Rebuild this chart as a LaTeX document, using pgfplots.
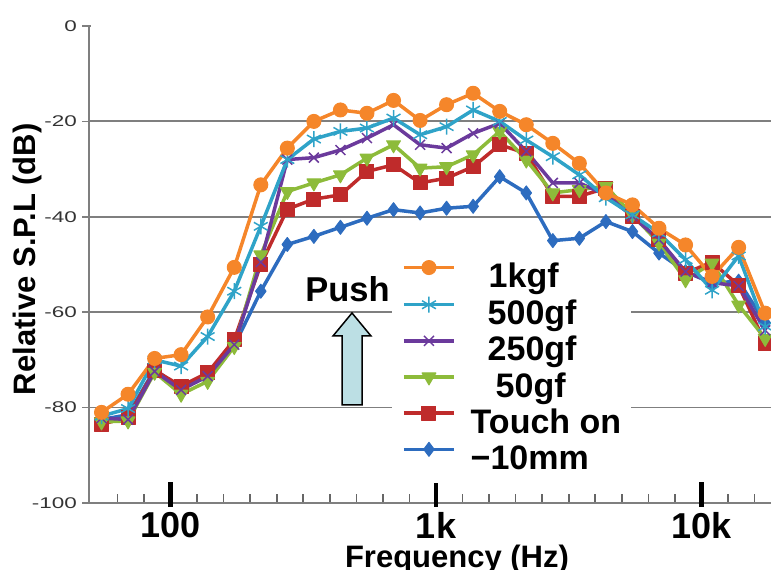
\documentclass[border=0pt]{standalone}
\usepackage{fontspec}
\setmainfont{Liberation Sans}
\newfontfamily\ytfont{Liberation Sans}[FakeStretch=1.45]
\usepackage{pgfplots}
\pgfplotsset{compat=1.18}
\usepackage{pgfplotstable}

\definecolor{ckg}{HTML}{F5862A}
\definecolor{cfive}{HTML}{2FA3C8}
\definecolor{ctwo}{HTML}{6B3A9C}
\definecolor{cfifty}{HTML}{8DBB3A}
\definecolor{ctouch}{HTML}{BF2B2B}
\definecolor{cten}{HTML}{2D6CBF}
\definecolor{arrowfill}{HTML}{BCDFE4}
\definecolor{gridgray}{HTML}{7F7F7F}

% relative SPL (dB) per band
\pgfplotstableread{
f kgf g500 g250 g50 touch mm10
54.95 -81.0 -81.8 -82.2 -83.0 -83.5 -82.5
69.18 -77.2 -80.2 -82.5 -82.8 -82.0 -81.5
87.10 -69.7 -70.0 -72.4 -72.6 -72.2 -72.0
109.6 -68.9 -71.3 -76.3 -77.2 -75.5 -76.0
138.0 -61.0 -65.1 -73.4 -74.5 -72.7 -73.5
173.8 -50.6 -55.6 -66.8 -67.2 -65.8 -67.0
218.8 -33.3 -42.0 -49.5 -48.0 -50.0 -55.6
275.4 -25.6 -28.0 -28.0 -34.7 -38.4 -45.8
346.7 -20.0 -23.7 -27.6 -32.9 -36.3 -44.1
436.5 -17.6 -22.1 -26.0 -31.2 -35.4 -42.2
549.5 -18.3 -21.4 -23.5 -27.7 -30.5 -40.3
691.8 -15.6 -19.3 -20.7 -24.9 -29.1 -38.5
871.0 -19.8 -22.8 -24.9 -29.8 -32.9 -39.2
1096 -16.5 -21.1 -25.6 -29.5 -31.9 -38.2
1380 -14.1 -17.6 -22.5 -27.0 -29.5 -37.8
1738 -17.9 -20.0 -20.4 -22.1 -24.9 -31.6
2188 -20.7 -23.9 -26.3 -28.1 -26.7 -35.0
2754 -24.6 -27.4 -32.9 -35.0 -35.7 -45.0
3467 -28.8 -31.2 -32.9 -34.3 -35.7 -44.5
4365 -35.0 -36.0 -35.4 -33.6 -34.0 -41.0
5495 -37.5 -39.6 -39.9 -39.6 -39.9 -43.1
6918 -42.4 -43.4 -44.8 -45.5 -44.8 -47.6
8710 -45.9 -49.0 -51.5 -53.2 -51.8 -51.5
10965 -52.5 -55.4 -53.8 -49.7 -49.5 -53.9
13804 -46.4 -48.2 -54.5 -58.5 -54.4 -53.5
17378 -60.2 -63.0 -63.8 -65.5 -66.5 -62.2
}\spl

\begin{document}
\begin{tikzpicture}
\begin{axis}[
  at={(0pt,0pt)}, anchor=south west,
  scale only axis, width=682pt, height=477pt,
  xmode=log, xmin=49.3, xmax=18280, ymin=-100, ymax=0,
  axis lines=left, axis line style={-, draw=gridgray, line width=1.8pt},
  tick align=inside, major tick length=9pt,
  xtick={63.1,79.43,100,125.9,158.5,199.5,251.2,316.2,398.1,501.2,631,794.3,1000,1259,1585,1995,2512,3162,3981,5012,6310,7943,10000,12589,15849},
  xticklabels={{},{},100,{},{},{},{},{},{},{},{},{},1k,{},{},{},{},{},{},{},{},{},10k,{},{}},
  major x tick style={black!60, line width=1.6pt},
  extra x ticks={100,1000,10000}, extra x tick labels={},
  extra x tick style={major tick length=25pt, grid=none, major x tick style={black, line width=4.5pt, yshift=-4pt}},
  xticklabel style={font=\bfseries\fontsize{36}{36}\selectfont, inner sep=0pt, yshift=-9pt},
  ytick={-80,-60,-40,-20}, ymajorgrids, grid style={gridgray, line width=1.8pt},
  extra y ticks={-100,0}, extra y tick style={grid=none},
  major y tick style={gridgray, line width=1.5pt, xshift=-7pt},
  yticklabel style={font=\ytfont\fontsize{15.5}{15.5}\selectfont, text=black!80, inner sep=0pt, xshift=-12pt},
  /pgf/number format/assume math mode=true,
  xlabel={Frequency (Hz)},
  xlabel style={at={(axis description cs:0.5396,0)}, anchor=north, inner sep=0pt, yshift=-42pt, font=\bfseries\fontsize{31}{31}\selectfont},
  ylabel={Relative S.P.L (dB)},
  ylabel style={at={(axis description cs:-0.0909,0.511)}, anchor=center, inner sep=0pt, font=\bfseries\fontsize{31}{31}\selectfont},
  legend style={at={(0.4443,0.515)}, anchor=north west, draw=none, fill=white,
    font=\bfseries\fontsize{34}{34}\selectfont, inner xsep=10pt, inner ysep=3pt,
    row sep=-1.7pt, column sep=15pt,
    nodes={inner sep=0pt, text height=27pt, text depth=10.8pt}},
  legend cell align=left,
  legend image code/.code={\draw[mark repeat=2, mark phase=2, #1] plot coordinates {(0pt,0pt) (25pt,0pt) (50pt,0pt)};},
  legend image post style={yshift=12pt},
  reverse legend,
  every axis plot/.append style={line width=3.5pt, line join=round},
]
\addplot[color=cten, mark=diamond*, mark size=7pt, mark options={solid, line width=1pt}] table[x=f, y=mm10] {\spl};
\addlegendentry{−10mm}
\addplot[color=ctouch, mark=square*, mark size=7pt, mark options={solid, line width=1pt}] table[x=f, y=touch] {\spl};
\addlegendentry{Touch on}
\addplot[color=cfifty, mark=triangle*, mark size=8pt, mark options={solid, rotate=180, line width=1pt}] table[x=f, y=g50] {\spl};
\addlegendentry{\hspace{25pt}50gf}
\addplot[color=ctwo, mark=x, mark size=7pt, mark options={solid, line width=1.5pt}] table[x=f, y=g250] {\spl};
\addlegendentry{\hspace{17pt}250gf}
\addplot[color=cfive, mark=asterisk, mark size=8pt, mark options={solid, line width=1.5pt}] table[x=f, y=g500] {\spl};
\addlegendentry{\hspace{17pt}500gf}
\addplot[color=ckg, mark=*, mark size=7pt, mark options={solid, line width=1pt}] table[x=f, y=kgf] {\spl};
\addlegendentry{\hspace{18pt}1kgf}
\end{axis}
% push annotation
\draw[line width=1.5pt, fill=arrowfill] (263pt,190pt) -- (282pt,167pt) -- (273pt,167pt) -- (273pt,98pt)
  -- (253pt,98pt) -- (253pt,167pt) -- (244pt,167pt) -- cycle;
\node[anchor=base, inner sep=0pt, font=\bfseries\fontsize{34.5}{34.5}\selectfont] at (258.5pt,201pt) {Push};
\pgfresetboundingbox
\useasboundingbox (-89pt,-67pt) rectangle (682pt,503pt);
\end{tikzpicture}
\end{document}
